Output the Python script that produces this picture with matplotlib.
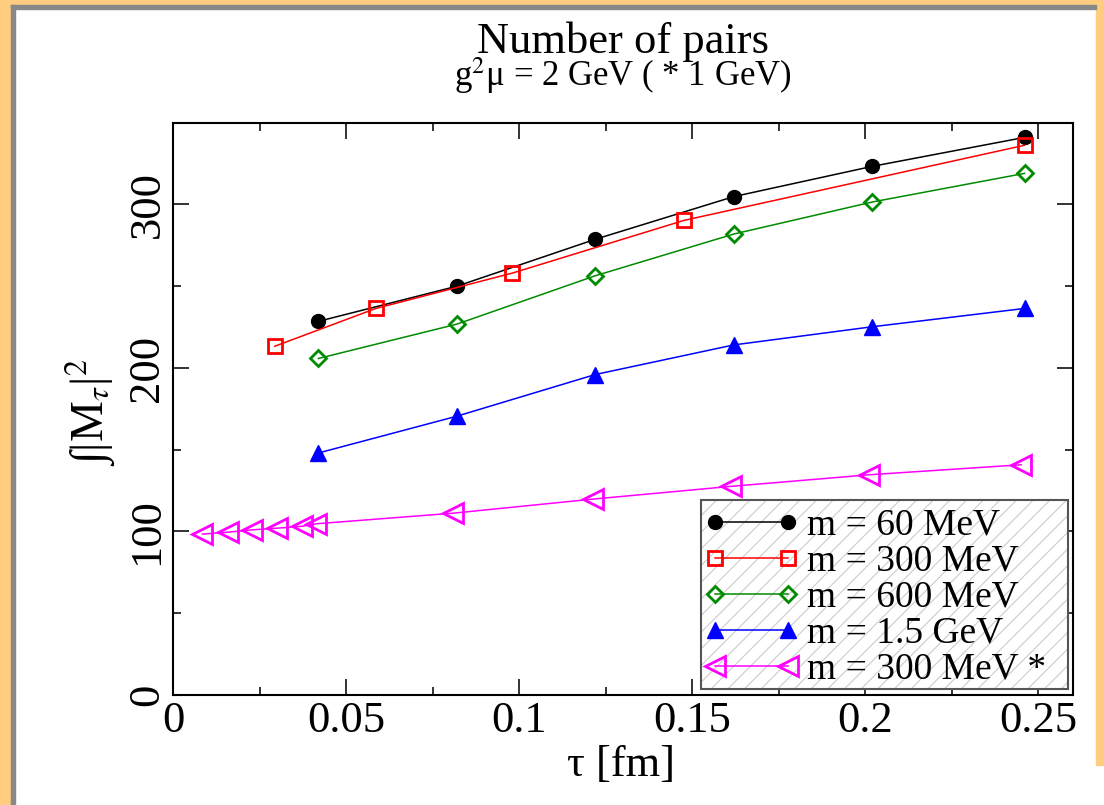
import matplotlib
matplotlib.use("Agg")
from matplotlib import pyplot as plt
from matplotlib.patches import Rectangle
from matplotlib.ticker import MultipleLocator, FuncFormatter

plt.rcParams['font.family'] = ['Liberation Serif', 'DejaVu Serif']
plt.rcParams['mathtext.fontset'] = 'stix'
plt.rcParams['hatch.linewidth'] = 0.8

# data
tau = [0.042, 0.082, 0.122, 0.162, 0.202, 0.246]
m60 = [228.5, 250, 278.7, 304.8, 323.3, 341]
m600 = [205.8, 226.8, 256.4, 281.9, 301.5, 319]
m1500 = [148, 170.5, 196, 214.1, 225.2, 236.4]

tau_300 = [0.0294, 0.0586, 0.098, 0.1477, 0.246]
m300 = [213.3, 236.4, 258, 290.3, 336.2]

tau_star = [0.0085, 0.016, 0.0228, 0.030, 0.0373, 0.0413, 0.081, 0.1213, 0.1612, 0.2012, 0.245]
m300_star = [98.4, 99.6, 101, 102, 103.2, 104.7, 111.2, 119.8, 127.6, 134.7, 140.8]

labels = ["m = 60 MeV", "m = 300 MeV", "m = 600 MeV", "m = 1.5 GeV", "m = 300 MeV *"]

W, H = 1104, 805
fig = plt.figure(figsize=(W / 100, H / 100), dpi=100)

# page frame (orange with grey inner edge)
orange = '#ffcc80'
grey = '#888888'
fig.patches.append(Rectangle((0, 0), 11 / W, 1, transform=fig.transFigure, color=orange, zorder=0))
fig.patches.append(Rectangle((0, 1 - 5 / H), 1, 5 / H, transform=fig.transFigure, color=orange, zorder=0))
fig.patches.append(Rectangle((1 - 8 / W, 40 / H), 8 / W, 1 - 40 / H, transform=fig.transFigure, color=orange, zorder=0))
fig.patches.append(Rectangle((11 / W, 0), 4 / W, 1 - 5 / H, transform=fig.transFigure, color=grey, zorder=0))
fig.patches.append(Rectangle((11 / W, 1 - 9 / H), 1 - 19 / W, 4 / H, transform=fig.transFigure, color=grey, zorder=0))

ax = fig.add_axes([173 / W, (H - 695) / H, 900 / W, 572.3 / H])

lw = 1.1
ax.plot(tau, m60, '-o', color='black', lw=lw, ms=10, label=labels[0])
ax.plot(tau_300, m300, '-s', color='red', lw=lw, ms=10.5, mfc='none', mew=2, label=labels[1])
ax.plot(tau, m600, '-D', color='#008b00', lw=lw, ms=8.2, mfc='none', mew=2, label=labels[2])
ax.plot(tau, m1500, '-^', color='blue', lw=lw, ms=12, label=labels[3])
ax.plot(tau_star, m300_star, '-<', color='magenta', lw=lw, ms=14, mfc='none', mew=2, label=labels[4])

ax.set_xlim(0, 0.26)
ax.set_ylim(0, 350)
ax.xaxis.set_major_locator(MultipleLocator(0.05))
ax.xaxis.set_minor_locator(MultipleLocator(0.025))
ax.yaxis.set_major_locator(MultipleLocator(100))
ax.yaxis.set_minor_locator(MultipleLocator(50))
ax.xaxis.set_major_formatter(FuncFormatter(lambda v, p: '%g' % round(v, 4)))

for s in ax.spines.values():
    s.set_linewidth(1.5)
ax.tick_params(which='both', direction='in', top=True, right=True, width=1.4, color='#333333')
ax.tick_params(which='major', length=11.5, labelsize=32, pad=4)
ax.tick_params(which='minor', length=5.8)
plt.setp(ax.get_yticklabels(), rotation=90, va='center')

# hatched legend box
ax.add_patch(Rectangle((0.5867, 0.0105), 0.4077, 0.3302, transform=ax.transAxes,
                       facecolor='white', edgecolor='#cccccc', hatch='//', lw=0, zorder=4))
ax.add_patch(Rectangle((0.5867, 0.0105), 0.4077, 0.3302, transform=ax.transAxes,
                       fill=False, edgecolor='#555555', lw=1.5, zorder=6))
leg = ax.legend(loc='upper left', bbox_to_anchor=(0.590, 0.326), frameon=False,
                fontsize=27, numpoints=2, handlelength=2.55, handletextpad=0.2,
                labelspacing=0.04, borderpad=0, borderaxespad=0)
leg.set_zorder(7)

fig.text(623 / W, 1 - 53 / H, "Number of pairs", ha='center', va='baseline', fontsize=32)
fig.text(623 / W, 1 - 86 / H, r"g$^2$μ = 2 GeV ( * 1 GeV)", ha='center', va='baseline', fontsize=25)
fig.text(621 / W, 1 - 765 / H, "τ [fm]", ha='center', va='center', fontsize=32)
fig.text(90 / W, 1 - 412 / H, r"∫|M$_{\tau}$|$^2$", ha='center', va='center',
         rotation=90, fontsize=33)

fig.savefig("out.png", dpi=100)
